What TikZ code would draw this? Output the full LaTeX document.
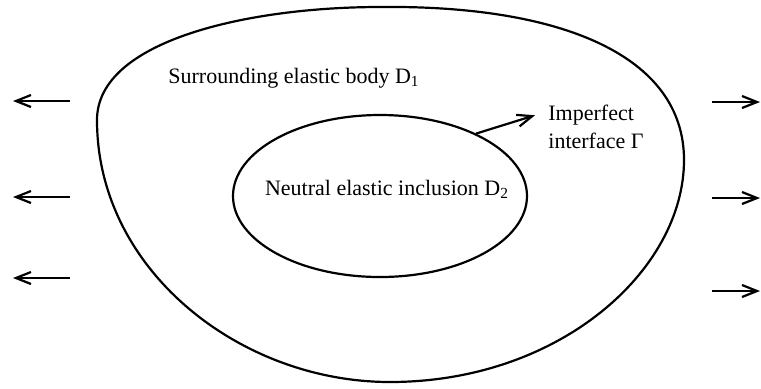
\documentclass[tikz,border=0pt]{standalone}
\usepackage{fontspec}
\setmainfont{Liberation Serif}
\usetikzlibrary{arrows.meta,shapes.geometric}

\begin{document}
\begin{tikzpicture}[
    x=0.5pt, y=-0.5pt,
    >={Straight Barb[length=7.5pt,width=6pt]},
    every node/.style={font=\fontsize{11}{14}\selectfont},
    body/.style={line width=1.1pt},
    load/.style={->, line width=1.1pt},
    label/.style={inner sep=0pt, align=left},
  ]
  \useasboundingbox (0,0) rectangle (761,388);

  % Surrounding body D1
  \draw[body] (380,7) .. controls (560,5) and (684,55) .. (684,160)
    .. controls (684,270) and (560,382) .. (390,382)
    .. controls (240,382) and (97,270) .. (97,120)
    .. controls (97,40) and (250,7) .. (380,7) -- cycle;
  \node[label, anchor=base west] (outer) at (168,83)
    {Surrounding elastic body D\textsubscript{1}};

  % Inclusion D2
  \node[body, draw, ellipse, minimum width=147pt, minimum height=81pt]
    (incl) at (380,196) {};
  \node[label, anchor=base] (incltext) at (387,195)
    {Neutral elastic inclusion D\textsubscript{2}};

  % Interface
  \node[label, anchor=north west] (iface) at (548,105)
    {Imperfect\\interface Γ};
  \draw[load] (incl.33) -- ([xshift=-6.5pt,yshift=6pt]iface.west);

  % Loads
  \foreach \y [count=\i] in {101,197,278} {
    \coordinate (ls\i) at (70,\y);
    \coordinate (le\i) at (13,\y);
    \draw[load] (ls\i) -- (le\i);
  }
  \foreach \y [count=\i] in {102,198,291} {
    \coordinate (rs\i) at (712,\y);
    \coordinate (re\i) at (760,\y);
    \draw[load] (rs\i) -- (re\i);
  }
\end{tikzpicture}
\end{document}
